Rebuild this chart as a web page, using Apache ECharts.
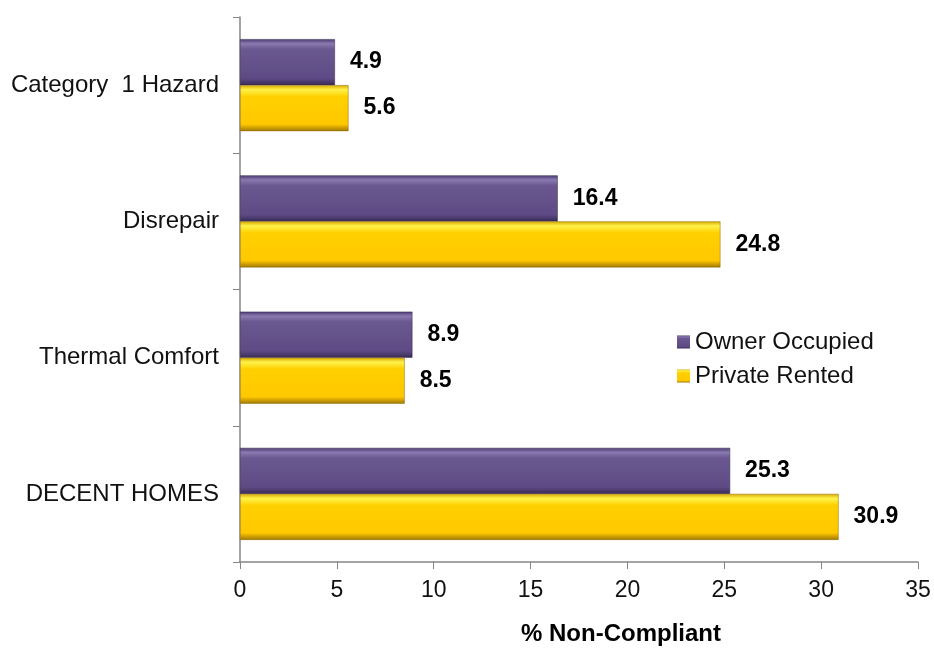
<!DOCTYPE html>
<html><head><meta charset="utf-8">
<script src="https://cdn.jsdelivr.net/npm/echarts@6/dist/echarts.min.js"></script>
<style>html,body{margin:0;padding:0;background:#fff}#c{width:934px;height:651px}</style>
</head><body><div id="c"></div>
<script>
const categories = ['DECENT HOMES', 'Thermal Comfort', 'Disrepair', 'Category  1 Hazard'];
const ownerOccupied = [25.3, 8.9, 16.4, 4.9];
const privateRented = [30.9, 8.5, 24.8, 5.6];
const xTicks = [0, 35, 5];

const purple = new echarts.graphic.LinearGradient(0, 0, 0, 1, [
  {offset: 0, color: '#4a3a70'}, {offset: 0.1, color: '#8a7ab0'}, {offset: 0.22, color: '#6a5890'},
  {offset: 0.85, color: '#5e4b85'}, {offset: 1, color: '#3a2c58'}]);
const gold = new echarts.graphic.LinearGradient(0, 0, 0, 1, [
  {offset: 0, color: '#d9a800'}, {offset: 0.1, color: '#fff24a'}, {offset: 0.25, color: '#ffd000'},
  {offset: 0.85, color: '#ffc800'}, {offset: 1, color: '#a07800'}]);

const FONT = 'Liberation Sans, Arial, sans-serif';
const labelStyle = {show: true, position: 'right', distance: 15, fontSize: 23, fontWeight: 'bold',
  color: '#000', fontFamily: FONT};

const chart = echarts.init(document.getElementById('c'));
chart.setOption({
  animation: false,
  textStyle: {fontFamily: FONT},
  grid: {left: 240, right: 16, top: 17, bottom: 85, containLabel: false},
  legend: {
    orient: 'vertical', left: 672, top: 325, itemWidth: 13, itemHeight: 13, itemGap: 10, itemStyle: {borderWidth: 0},
    data: ['Owner Occupied', 'Private Rented'],
    textStyle: {fontSize: 24, color: '#111', fontFamily: FONT, padding: [0, 0, 0, 0]},
    icon: 'rect'
  },
  xAxis: {
    type: 'value', min: xTicks[0], max: xTicks[1], interval: xTicks[2],
    name: '% Non-Compliant', nameLocation: 'middle', nameGap: 60,
    nameTextStyle: {fontSize: 24, fontWeight: 'bold', color: '#000', padding: [0, 0, 0, 84]},
    axisLine: {show: true, lineStyle: {color: '#868686', width: 1.5}},
    axisTick: {show: true, length: 7, lineStyle: {color: '#868686'}},
    axisLabel: {fontSize: 23, color: '#111', margin: 17},
    splitLine: {show: false}
  },
  yAxis: {
    type: 'category', data: categories,
    axisLine: {show: true, lineStyle: {color: '#868686', width: 1.5}},
    axisTick: {show: true, length: 7, lineStyle: {color: '#868686'}},
    axisLabel: {fontSize: 24, color: '#111', margin: 21}
  },
  series: [
    {name: 'Owner Occupied', type: 'bar', data: ownerOccupied, barWidth: 46, barGap: '0%',
     itemStyle: {color: purple, borderColor: '#2e2248', borderWidth: 0.5}, label: labelStyle},
    {name: 'Private Rented', type: 'bar', data: privateRented, barWidth: 46, barGap: '0%',
     itemStyle: {color: gold, borderColor: '#8a6a00', borderWidth: 0.5}, label: labelStyle}
  ]
});
</script></body></html>
